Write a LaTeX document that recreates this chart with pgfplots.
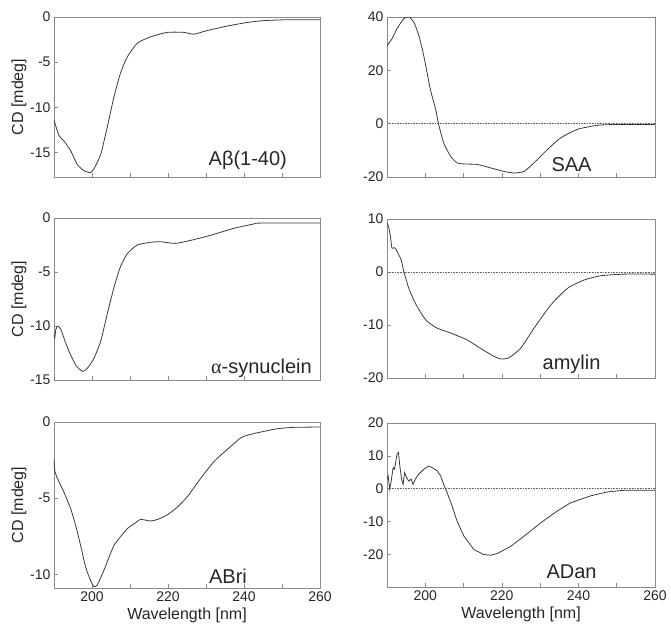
\documentclass[border=0pt]{standalone}
\usepackage{pgfplots}
\pgfplotsset{compat=1.18}
\usepackage{fontspec}
\setmainfont{Liberation Sans}
\newfontfamily\greekserif{Liberation Serif}

\definecolor{curve}{HTML}{3A3A3A}
\definecolor{frame}{HTML}{8A8A8A}

\pgfplotsset{
  cdpanel/.style={
    scale only axis, width=266pt, height=160pt,
    anchor=north west,
    xmin=190, xmax=260,
    xtick={200,220,240,260}, minor xtick={210,230,250},
    tick align=inside, xtick pos=bottom, ytick pos=left,
    major tick length=4pt, minor tick length=4pt,
    axis line style={frame, line width=0.7pt},
    every tick/.style={frame, line width=0.6pt},
    tick label style={font=\fontsize{14}{16}\selectfont, text=black!85},
    label style={font=\fontsize{16}{18}\selectfont, text=black!85},
    /pgf/number format/assume math mode=true,
    ylabel shift=-3pt,
  },
  toprow/.style={xticklabels={}},
  cd/.style={curve, line width=0.8pt, smooth, tension=0.35},
  zero/.style={black!60, densely dotted, line width=0.6pt},
}
\newcommand{\tag}[3]{\node[font=\fontsize{20}{22}\selectfont, text=black!85] at (axis cs:#1,#2) {#3};}

\begin{document}
\begin{tikzpicture}
\useasboundingbox (6pt,0) rectangle (677pt,-627pt);

% A beta (1-40)
\begin{axis}[cdpanel, toprow, at={(60pt,-17pt)}, ymin=-17.7, ymax=0, ytick={-15,-10,-5,0},
  ylabel={CD [mdeg]}]
\addplot[cd] coordinates {
(190,-11.4) (191.3,-13.1) (192.6,-13.7) (194.4,-14.8) (196.1,-16.3) (197.9,-17.0)
(199.6,-17.2) (200.5,-16.8) (202.3,-15.2) (204,-12.2) (205.8,-8.8) (207.5,-6.2)
(209.3,-4.4) (211.9,-2.9) (215.4,-2.2) (219.8,-1.7) (224.2,-1.7) (226.8,-1.9)
(230.3,-1.5) (235.6,-1.0) (240.9,-0.6) (245.2,-0.4) (251.4,-0.3) (260,-0.3)};
\tag{241}{-15.9}{Aβ(1-40)}
\end{axis}

% SAA
\begin{axis}[cdpanel, toprow, at={(393pt,-17pt)}, width=268pt, ymin=-20, ymax=40, ytick={-20,0,20,40}]
\addplot[zero] coordinates {(190,0) (260,0)};
\addplot[cd] coordinates {
(190,29.3) (191.3,31.8) (192.6,35.6) (194.4,39.4) (195.7,40) (197,38.1) (198.3,33.1)
(199.6,25.5) (201.3,13) (202.7,5.4) (203.5,-0.3) (204.8,-7.2) (206.6,-12.2)
(208.3,-14.7) (210.1,-15.1) (213.6,-15.3) (217.1,-16.6) (220.5,-17.9) (223.2,-18.5)
(225.8,-17.9) (228.4,-14.7) (231.9,-9.7) (235.4,-5.3) (239.8,-2.1) (245,-0.6)
(250.2,-0.3) (260,-0.3)};
\tag{238.2}{-15.3}{SAA}
\end{axis}

% alpha-synuclein
\begin{axis}[cdpanel, toprow, at={(60pt,-218pt)}, height=162pt, ymin=-15, ymax=0, ytick={-15,-10,-5,0},
  ylabel={CD [mdeg]}]
\addplot[cd] coordinates {
(190,-10.8) (190.2,-11.1) (190.5,-10.3) (191,-10.0) (191.8,-10.3) (192.6,-11.1)
(193.9,-12.3) (195.7,-13.6) (197.5,-14.2) (198.8,-13.9) (200.5,-13.0) (202.3,-11.4)
(204,-8.9) (205.8,-6.4) (207.5,-4.5) (209.3,-3.3) (211.9,-2.5) (215.4,-2.25)
(218.1,-2.2) (222,-2.35) (226.8,-2.0) (231.2,-1.6) (237.4,-0.95) (242.6,-0.55)
(244.4,-0.47) (260,-0.47)};
\tag{244.6}{-13.9}{{\greekserif α}-synuclein}
\end{axis}

% amylin
\begin{axis}[cdpanel, toprow, at={(393pt,-219pt)}, width=268pt, height=159pt, ymin=-20, ymax=10, ytick={-20,-10,0,10}]
\addplot[zero] coordinates {(190,0) (260,0)};
\addplot[cd] coordinates {
(190,9.2) (190.4,8.6) (190.9,6.7) (191.3,4.5) (191.9,4.6) (192.4,4.2) (193.1,3.2)
(193.7,2.3) (194.4,0.1) (195.7,-3.1) (197.4,-5.9) (199.2,-8.1) (200.5,-9.3)
(203.1,-10.6) (206.6,-11.5) (210.9,-12.8) (214.4,-14.4) (217.9,-15.9) (219.7,-16.4)
(221.8,-16.2) (224.9,-14.4) (228.4,-10.6) (232.8,-6.2) (237.1,-3.1) (241.5,-1.5)
(245.9,-0.7) (252,-0.4) (260,-0.4)};
\tag{238.2}{-17.4}{amylin}
\end{axis}

% ABri
\begin{axis}[cdpanel, at={(60pt,-422pt)}, height=166pt, ymin=-10.9, ymax=0, ytick={-10,-5,0},
  ylabel={CD [mdeg]}, xlabel={Wavelength [nm]}]
\addplot[cd] coordinates {
(190,-2.4) (190.2,-3.2) (190.9,-3.7) (192.6,-4.6) (194.4,-5.7) (195.7,-6.8) (197,-8.1)
(198.3,-9.5) (199.6,-10.4) (200.5,-10.8) (201.4,-10.7) (203.2,-9.7) (205.8,-8.1)
(209.3,-7.0) (211,-6.7) (212.8,-6.4) (215.4,-6.5) (217.2,-6.4) (219.8,-6.1)
(222.4,-5.6) (225.1,-4.9) (228.6,-3.7) (232.1,-2.6) (235.6,-1.8) (239.1,-1.05)
(241.3,-0.84) (244.4,-0.66) (248.8,-0.44) (253.2,-0.35) (260,-0.33)};
\tag{235.8}{-10.1}{ABri}
\end{axis}

% ADan
\begin{axis}[cdpanel, at={(393pt,-423pt)}, width=268pt, height=164pt, ymin=-30, ymax=20, ytick={-20,-10,0,10,20},
  xlabel={Wavelength [nm]}]
\addplot[zero] coordinates {(190,0) (260,0)};
\addplot[curve, line width=0.8pt] coordinates {
(190,2.9) (190.3,3.9) (190.7,-0.2) (191.1,2.3) (191.6,6.4) (191.9,5.9) (192.2,7.4)
(192.6,10.5) (193,11) (193.3,7.4) (193.8,2.9) (194.2,1.3) (194.6,4.9) (195.1,3.4)
(195.7,2.3) (196.3,2.9) (196.8,1.3) (197.4,2.9) (198.3,4.4) (199.6,5.9) (200.9,6.9)
(201.8,6.4) (203.1,5.4) (204,3.9) (204.8,1.3) (205.7,-1.2) (207,-5.3) (208.3,-9.9)
(210.1,-14.5) (212.7,-18.6) (215.3,-20.1) (217.1,-20.3) (218.8,-19.8) (222.3,-17.6)
(225.8,-14.5) (230.2,-10.4) (234.5,-6.8) (238,-4.3) (243.2,-2.2) (247.6,-1.0)
(252,-0.5) (260,-0.5)};
\tag{238.2}{-25.4}{ADan}
\end{axis}
\end{tikzpicture}
\end{document}
